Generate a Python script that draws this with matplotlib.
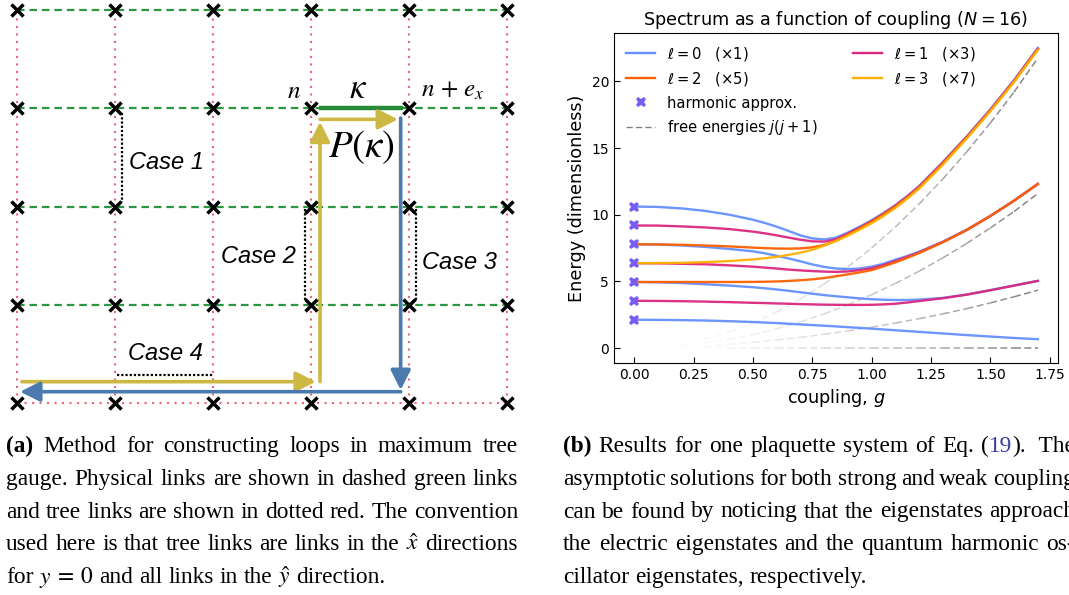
import matplotlib
matplotlib.use('Agg')
import matplotlib.pyplot as plt
from matplotlib.collections import LineCollection
from matplotlib.lines import Line2D

# ---------------- data: panel (b) ----------------
coupling = [0.0, 0.1, 0.2, 0.3, 0.4, 0.5, 0.55, 0.6, 0.65, 0.7, 0.75, 0.8, 0.85,
            0.9, 0.95, 1.0, 1.05, 1.1, 1.15, 1.2, 1.3, 1.4, 1.5, 1.6, 1.7]

# l = 0 levels
l0_n0 = [2.12, 2.11, 2.09, 2.06, 2.01, 1.95, 1.91, 1.87, 1.82, 1.77, 1.72, 1.67, 1.62,
         1.56, 1.51, 1.45, 1.39, 1.33, 1.27, 1.21, 1.09, 0.97, 0.86, 0.75, 0.66]
l0_n2 = [4.95, 4.93, 4.87, 4.78, 4.68, 4.56, 4.48, 4.39, 4.29, 4.18, 4.07, 3.97, 3.88,
         3.80, 3.72, 3.66, 3.62, 3.60, 3.60, 3.63, 3.76, 4.01, 4.34, 4.69, 5.04]
l0_n4 = [7.78, 7.76, 7.69, 7.58, 7.43, 7.25, 7.10, 6.92, 6.72, 6.50, 6.27, 6.08, 5.96,
         5.92, 5.96, 6.10, 6.32, 6.62, 6.90, 7.22, 7.97, 8.86, 9.90, 11.05, 12.3]
l0_n6 = [10.61, 10.58, 10.47, 10.28, 10.0, 9.62, 9.38, 9.10, 8.78, 8.45, 8.22, 8.14, 8.28,
         8.66, 9.10, 9.58, 10.12, 10.72, 11.4, 12.15, 13.95, 15.86, 17.9, 20.1, 22.5]
# l = 1 levels
l1_n1 = [3.54, 3.53, 3.51, 3.48, 3.44, 3.39, 3.37, 3.34, 3.32, 3.29, 3.27, 3.25, 3.24,
         3.23, 3.23, 3.24, 3.27, 3.32, 3.41, 3.52, 3.73, 4.00, 4.33, 4.68, 5.03]
l1_n3 = [6.36, 6.35, 6.32, 6.28, 6.20, 6.10, 6.03, 5.96, 5.88, 5.82, 5.77, 5.73, 5.71,
         5.74, 5.84, 5.98, 6.22, 6.52, 6.84, 7.17, 7.95, 8.85, 9.90, 11.05, 12.3]
l1_n5 = [9.19, 9.18, 9.12, 9.04, 8.92, 8.73, 8.60, 8.45, 8.28, 8.12, 8.00, 7.98, 8.15,
         8.58, 9.03, 9.52, 10.07, 10.67, 11.35, 12.1, 13.9, 15.82, 17.85, 20.05, 22.45]
# l = 2 levels
l2_n2 = [4.95, 4.95, 4.95, 4.95, 4.95, 4.96, 4.97, 4.99, 5.03, 5.08, 5.15, 5.25, 5.38,
         5.52, 5.67, 5.84, 6.12, 6.42, 6.76, 7.12, 7.93, 8.84, 9.90, 11.05, 12.3]
l2_n4 = [7.78, 7.77, 7.74, 7.69, 7.62, 7.53, 7.49, 7.46, 7.45, 7.47, 7.55, 7.72, 8.06,
         8.50, 8.98, 9.47, 10.02, 10.62, 11.3, 12.05, 13.85, 15.78, 17.8, 20.0, 22.4]
# l = 3 level
l3_n3 = [6.36, 6.37, 6.39, 6.44, 6.52, 6.64, 6.73, 6.84, 6.98, 7.15, 7.37, 7.68, 8.02,
         8.43, 8.88, 9.36, 9.90, 10.5, 11.2, 11.95, 13.75, 15.7, 17.75, 19.95, 22.35]

harmonic_E = [2.12, 3.54, 4.95, 6.36, 7.78, 9.19, 10.61]

free_g = [0.13, 0.2, 0.3, 0.4, 0.5, 0.6, 0.7, 0.8, 0.9, 1.0, 1.1, 1.2, 1.3, 1.4, 1.5, 1.6, 1.7]
free_j0 = [0, 0, 0, 0, 0, 0, 0, 0, 0, 0, 0, 0, 0, 0, 0, 0, 0]
free_j1 = [0.03, 0.06, 0.15, 0.27, 0.42, 0.6, 0.8, 1.03, 1.28, 1.56, 1.87, 2.2, 2.56, 2.95, 3.38, 3.84, 4.34]
free_j2 = [0.07, 0.16, 0.36, 0.64, 1.0, 1.44, 1.96, 2.56, 3.24, 4.0, 4.84, 5.76, 6.76, 7.84, 9.0, 10.24, 11.58]
free_j3 = [0.13, 0.3, 0.68, 1.2, 1.88, 2.7, 3.68, 4.8, 6.08, 7.5, 9.08, 10.8, 12.68, 14.7, 16.88, 19.2, 21.75]

ell_labels = [r'$\ell = 0$   $(\times 1)$', r'$\ell = 1$   $(\times 3)$',
              r'$\ell = 2$   $(\times 5)$', r'$\ell = 3$   $(\times 7)$']
ell_colors = ['#648FFF', '#DC267F', '#FE6100', '#FFB000']
ell_curves = [[l0_n0, l0_n2, l0_n4, l0_n6], [l1_n1, l1_n3, l1_n5], [l2_n2, l2_n4], [l3_n3]]

# ---------------- data: panel (a) ----------------
cols = [0, 1, 2, 3, 4, 5]
rows = [0, 1, 2, 3, 4]
yellow_path = [[(0.05, 0.217), (3.05, 0.217)], [(3.092, 0.217), (3.092, 2.863)],
               [(3.092, 2.887), (3.888, 2.887)]]
blue_path = [[(3.915, 2.90), (3.915, 0.132)], [(3.915, 0.115), (0.031, 0.115)]]
kappa_link = [(3.085, 3.0), (3.94, 3.0)]
case_lines = [[(1.067, 2.95), (1.067, 2.05)], [(2.94, 1.97), (2.94, 1.05)],
              [(4.067, 1.97), (4.067, 1.03)], [(1.016, 0.29), (1.998, 0.29)]]
case_labels = ['Case 1', 'Case 2', 'Case 3', 'Case 4']
case_pos = [(1.147, 2.382), (2.082, 1.427), (4.133, 1.364), (1.13, 0.44)]

cap_a = [
    [[('(a)', {'weight': 'bold'})], 'Method', 'for', 'constructing', 'loops', 'in', 'maximum', 'tree'],
    ['gauge.', 'Physical', 'links', 'are', 'shown', 'in', 'dashed', 'green', 'links'],
    ['and', 'tree', 'links', 'are', 'shown', 'in', 'dotted', 'red.', 'The', 'convention'],
    ['used', 'here', 'is', 'that', 'tree', 'links', 'are', 'links', 'in', 'the', r'$\hat{x}$', 'directions'],
    ['for', r'$y\:=\:0$', 'and', 'all', 'links', 'in', 'the', r'$\hat{y}$', 'direction.'],
]
cap_b = [
    [[('(b)', {'weight': 'bold'})], 'Results', 'for', 'one', 'plaquette', 'system', 'of', 'Eq.',
     [('(', {}), ('19', {'color': '#3B3BA8'}), (').', {})], ' The'],
    ['asymptotic', 'solutions', 'for', 'both', 'strong', 'and', 'weak', 'coupling'],
    ['can', 'be', 'found', 'by', 'noticing', 'that', 'the', 'eigenstates', 'approach'],
    ['the', 'electric', 'eigenstates', 'and', 'the', 'quantum', 'harmonic', 'os-'],
    ['cillator', 'eigenstates,', 'respectively.'],
]

W, H = 1069, 595
fig = plt.figure(figsize=(W / 100, H / 100), dpi=100)

# ---------------- panel (a): lattice sketch ----------------
axa = fig.add_axes([0, 1 - 420 / H, 530 / W, 420 / H])
axa.set_xlim(-17 / 98, 513 / 98)
axa.set_ylim(-17 / 98.25, 403 / 98.25)
axa.axis('off')

red = '#F06478'
green = '#2D9640'
for c in cols:
    axa.plot([c, c], [rows[0], rows[-1]], color=red, lw=1.5, ls=(0, (1, 2.6)), zorder=1)
axa.plot([cols[0], cols[-1]], [rows[0], rows[0]], color=red, lw=1.5, ls=(0, (1, 2.6)), zorder=1)
for r in rows[1:]:
    axa.plot([cols[0], cols[-1]], [r, r], color=green, lw=1.6, ls=(0, (3.4, 2.2)), zorder=1)

axa.plot(*zip(*kappa_link), color='#268A36', lw=3.2, solid_capstyle='butt', zorder=3)

for seg in case_lines:
    axa.plot(*zip(*seg), color='black', lw=1.6, ls=(0, (1, 0.9)), zorder=2)

for path, col in [(yellow_path, '#CDB843'), (blue_path, '#4B7BAE')]:
    for start, end in path:
        axa.annotate('', xy=end, xytext=start,
                     arrowprops=dict(arrowstyle='-|>,head_length=0.6,head_width=0.3',
                                     color=col, lw=2.6, shrinkA=0, shrinkB=0,
                                     mutation_scale=20), zorder=4)

gx = [c for c in cols for r in rows]
gy = [r for c in cols for r in rows]
axa.plot(gx, gy, 'x', color='black', ms=8, mew=2.5, zorder=6)

for lab, (x, y) in zip(case_labels, case_pos):
    axa.text(x, y, lab, family='Liberation Sans', style='italic', fontsize=17,
             va='baseline', ha='left')
axa.text(3.17, 2.507, r'$P(\kappa)$', fontsize=28, math_fontfamily='stix', va='baseline')
axa.text(3.48, 3.101, r'$\kappa$', fontsize=25, math_fontfamily='stix', va='baseline', ha='center')
axa.text(2.827, 3.101, r'$n$', fontsize=18, math_fontfamily='stix', va='baseline', ha='center')
axa.text(4.12, 3.12, r'$n\,+\,e_x$', fontsize=18, math_fontfamily='stix', va='baseline', ha='left')

# ---------------- panel (b): spectrum ----------------
axb = fig.add_axes([614 / W, 1 - 363 / H, 444 / W, 330 / H])

for j, fe in enumerate([free_j0, free_j1, free_j2, free_j3]):
    segs, cols_rgba = [], []
    for i in range(len(free_g) - 1):
        segs.append([(free_g[i], fe[i]), (free_g[i + 1], fe[i + 1])])
        a = ((0.5 * (free_g[i] + free_g[i + 1]) - 0.13) / 1.57) ** 1.5
        cols_rgba.append((0.5, 0.5, 0.5, min(a, 1.0)))
    axb.add_collection(LineCollection(segs, colors=cols_rgba, linewidths=1.1,
                                      linestyles=[(0, (4.5, 2.3))], zorder=1))

for curves, col in zip(ell_curves, ell_colors):
    for e in curves:
        axb.plot(coupling, e, color=col, lw=1.7, alpha=0.95, zorder=2)

axb.plot([0] * len(harmonic_E), harmonic_E, 'X', color='#785EF0', ms=7.5, mew=0, zorder=5)

axb.set_xticks([0, 0.25, 0.5, 0.75, 1.0, 1.25, 1.5, 1.75])
axb.set_yticks([0, 5, 10, 15, 20])
axb.margins(0.05)
axb.autoscale_view()
axb.tick_params(direction='in', length=4, labelsize=10)
axb.set_xlabel('coupling, $g$', fontsize=12.7)
axb.set_ylabel('Energy (dimensionless)', fontsize=12.7)
axb.set_title('Spectrum as a function of coupling ($N = 16$)', fontsize=12.7)

h_ell = [Line2D([], [], color=c, lw=1.7) for c in ell_colors]
h_harm = Line2D([], [], ls='none', marker='X', color='#785EF0', ms=7.5, mew=0)
h_free = Line2D([], [], color='gray', lw=1.0, ls=(0, (4.5, 2.3)))
blank = Line2D([], [], ls='none')
axb.legend([h_ell[0], h_ell[2], h_harm, h_free, h_ell[1], h_ell[3], blank, blank],
           [ell_labels[0], ell_labels[2], 'harmonic approx.', 'free energies $j(j+1)$',
            ell_labels[1], ell_labels[3], '', ''],
           ncol=2, loc='upper left', frameon=False, fontsize=10.6, columnspacing=2.4,
           borderaxespad=0.4)

# ---------------- captions ----------------
SERIF = 'Liberation Serif'
CAP_FS = 16.8
CAP_LEAD = 32.75
renderer = fig.canvas.get_renderer()


def text_width(s, **kw):
    t = fig.text(0, 0, s, fontsize=CAP_FS, family=SERIF, math_fontfamily='stix', **kw)
    w = t.get_window_extent(renderer).width
    t.remove()
    return w


space = text_width('x x') - text_width('xx')


def caption(x0, y0, lines, width):
    for k, line in enumerate(lines):
        y = 1 - (y0 + k * CAP_LEAD) / H
        words = []
        for word in line:
            pieces = [(word, {})] if isinstance(word, str) else word
            parts = []
            for s, kw in pieces:
                t = fig.text(0, y, s, fontsize=CAP_FS, family=SERIF, va='baseline',
                             ha='left', math_fontfamily='stix', **kw)
                parts.append((t, t.get_window_extent(renderer).width))
            words.append(parts)
        total = sum(w for parts in words for _, w in parts)
        if k == len(lines) - 1:
            gap = space
        else:
            gap = max((width - total) / (len(words) - 1), 1.0)
        x = x0
        for parts in words:
            for t, w in parts:
                t.set_x(x / W)
                x += w
            x += gap


caption(6, 452, cap_a, 512)
caption(563, 452, cap_b, 512)

fig.savefig('out.png', dpi=100)
